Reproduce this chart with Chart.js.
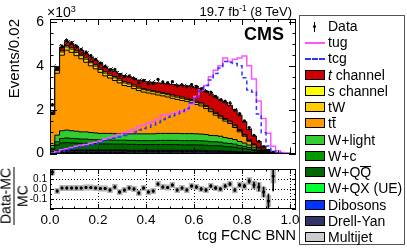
<!DOCTYPE html>
<html>
<head>
<meta charset="utf-8">
<title>tcg FCNC BNN</title>
<script src="https://cdn.jsdelivr.net/npm/chart.js@4.4.1/dist/chart.umd.min.js"></script>
<style>
html, body { margin: 0; padding: 0; background: #fff; }
body { position: relative; width: 407px; height: 248px; overflow: hidden; font-family: "Liberation Sans", Arial, Helvetica, sans-serif; color: #000; }
canvas { position: absolute; left: 0; }
#mainChart { top: 0; }
#ratioChart { top: 160px; }
.txt { position: absolute; white-space: nowrap; line-height: 1; }
#expo { left: 47px; top: 5px; font-size: 14px; }
.txt sup { font-size: 65%; vertical-align: 0; position: relative; top: -0.55em; }
#lumi { right: 115px; top: 5px; font-size: 13px; }
#cms { right: 123px; top: 25px; font-size: 18px; font-weight: bold; }
#ratioTitle { left: 14px; top: 196px; font-size: 14px; text-align: center; transform: translate(-50%, -50%) rotate(-90deg); }
#ratioTitle .num { display: block; border-bottom: 1px solid #000; padding: 0 1px 1px; }
#ratioTitle .den { display: block; padding-top: 1px; }
#legend { position: absolute; left: 299px; top: 15px; width: 106px; height: 230px; box-sizing: border-box; border: 1px solid #555; }
.row { position: absolute; left: 305px; width: 99px; height: 16px; font-size: 14px; line-height: 16px; white-space: nowrap; }
.sym { position: absolute; left: 0; top: 3px; width: 20px; height: 10px; box-sizing: border-box; border: 1px solid #000; }
.sym.line { border: none; height: 0; top: 8px; }
.sym.data { border: none; }
.lab { position: absolute; left: 23px; top: 0; }
.ovl { display: inline-block; line-height: 11px; border-top: 1px solid #000; }
</style>
</head>
<body>
<canvas id="mainChart" width="407" height="168"></canvas>
<canvas id="ratioChart" width="407" height="88"></canvas>
<div class="txt" id="expo">×10<sup>3</sup></div>
<div class="txt" id="lumi">19.7 fb<sup>-1</sup> (8 TeV)</div>
<div class="txt" id="cms">CMS</div>
<div class="txt" id="ratioTitle"><span class="num">Data-MC</span><span class="den">MC</span></div>
<div id="legend"></div>
<script>
// bins of the BNN output, 0.02 wide, values in thousands of events
const nBins = 50;
const binWidth = 0.02;
const xMax = 1.025;

const multijet = [0.02,0.04,0.05,0.05,0.05,0.05,0.05,0.05,0.05,0.05, 0.05,0.05,0.05,0.05,0.05,0.05,0.04,0.04,0.04,0.04, 0.04,0.04,0.04,0.04,0.04,0.04,0.04,0.04,0.04,0.04, 0.04,0.04,0.04,0.03,0.03,0.03,0.03,0.03,0.03,0.02, 0.02,0.02,0.01,0.01,0.01,0,0,0,0,0];
const drellYan = [0.03,0.06,0.07,0.07,0.07,0.07,0.07,0.07,0.06,0.06, 0.06,0.06,0.06,0.06,0.06,0.06,0.06,0.06,0.06,0.06, 0.06,0.06,0.06,0.06,0.06,0.06,0.06,0.06,0.06,0.06, 0.06,0.06,0.05,0.05,0.05,0.05,0.04,0.04,0.04,0.03, 0.03,0.02,0.02,0.01,0.01,0,0,0,0,0];
const dibosons = [0.01,0.02,0.03,0.03,0.03,0.03,0.03,0.03,0.03,0.03, 0.03,0.03,0.03,0.03,0.03,0.03,0.03,0.03,0.03,0.03, 0.03,0.03,0.03,0.03,0.03,0.03,0.03,0.03,0.03,0.03, 0.03,0.03,0.03,0.03,0.03,0.03,0.02,0.02,0.02,0.02, 0.02,0.02,0.01,0.01,0.01,0,0,0,0,0];
const wQX = [0.01,0.02,0.02,0.02,0.02,0.02,0.02,0.02,0.02,0.02, 0.02,0.02,0.02,0.02,0.02,0.02,0.02,0.02,0.02,0.02, 0.02,0.02,0.02,0.02,0.02,0.02,0.02,0.02,0.02,0.02, 0.02,0.02,0.02,0.02,0.02,0.02,0.02,0.02,0.01,0.01, 0.01,0.01,0.01,0.01,0,0,0,0,0,0];
const wQQ = [0.12,0.25,0.32,0.33,0.32,0.31,0.3,0.3,0.29,0.29, 0.28,0.28,0.28,0.27,0.27,0.27,0.27,0.27,0.26,0.26, 0.26,0.26,0.26,0.26,0.26,0.26,0.26,0.25,0.25,0.25, 0.25,0.24,0.24,0.23,0.23,0.22,0.21,0.2,0.19,0.17, 0.15,0.12,0.09,0.06,0.04,0.02,0.01,0,0,0];
const wC = [0.06,0.15,0.2,0.21,0.2,0.2,0.19,0.19,0.19,0.18, 0.18,0.18,0.18,0.18,0.18,0.18,0.18,0.18,0.18,0.18, 0.18,0.18,0.19,0.19,0.19,0.19,0.19,0.19,0.19,0.19, 0.19,0.19,0.19,0.18,0.18,0.17,0.16,0.15,0.14,0.12, 0.1,0.08,0.06,0.04,0.03,0.02,0.01,0,0,0];
const wLight = [0.12,0.3,0.35,0.36,0.35,0.34,0.33,0.33,0.32,0.31, 0.3,0.3,0.3,0.3,0.3,0.3,0.3,0.3,0.31,0.31, 0.31,0.31,0.32,0.32,0.32,0.32,0.32,0.32,0.32,0.32, 0.31,0.31,0.3,0.29,0.28,0.27,0.25,0.23,0.21,0.18, 0.15,0.12,0.09,0.06,0.04,0.02,0.01,0,0,0];
const ttbar = [1.41,2.82,3.44,3.64,3.57,3.44,3.33,3.17,3.04,2.92, 2.78,2.62,2.52,2.42,2.31,2.19,2.16,2.06,1.97,1.9, 1.86,1.82,1.75,1.71,1.66,1.6,1.55,1.51,1.47,1.41, 1.34,1.28,1.18,1.08,0.93,0.83,0.75,0.68,0.55,0.44, 0.31,0.17,0.1,0.05,0.01,0.01,0,0.01,0,0];
const tW = [0.05,0.12,0.15,0.15,0.15,0.15,0.14,0.14,0.14,0.13, 0.13,0.13,0.12,0.12,0.12,0.12,0.11,0.11,0.11,0.11, 0.1,0.1,0.1,0.1,0.1,0.1,0.1,0.1,0.09,0.09, 0.09,0.09,0.09,0.08,0.08,0.08,0.08,0.07,0.07,0.06, 0.05,0.04,0.03,0.02,0.01,0.01,0,0,0,0];
const sChannel = [0.02,0.05,0.06,0.06,0.06,0.06,0.06,0.06,0.06,0.06, 0.06,0.06,0.06,0.06,0.06,0.06,0.05,0.05,0.05,0.05, 0.05,0.05,0.05,0.05,0.05,0.05,0.05,0.05,0.05,0.05, 0.05,0.05,0.05,0.05,0.05,0.04,0.04,0.04,0.04,0.04, 0.03,0.03,0.02,0.02,0.01,0.01,0,0,0,0];
const tChannel = [0.05,0.12,0.16,0.18,0.18,0.18,0.18,0.19,0.2,0.2, 0.21,0.22,0.23,0.24,0.25,0.27,0.28,0.3,0.32,0.34, 0.36,0.38,0.4,0.42,0.45,0.48,0.5,0.53,0.56,0.59, 0.62,0.64,0.66,0.68,0.7,0.71,0.72,0.72,0.7,0.66, 0.58,0.47,0.36,0.26,0.16,0.08,0.03,0.01,0,0];

const tug = [0.03,0.1,0.17,0.22,0.28,0.33,0.38,0.42,0.47,0.52, 0.57,0.65,0.72,0.8,0.88,0.95,1.02,1.1,1.25,1.3, 1.38,1.45,1.6,1.75,1.78,1.82,1.88,1.95,2.0,2.25, 2.6,2.9,3.1,3.5,3.8,4.0,4.35,4.2,4.3,4.35, 4.45,4.0,3.4,2.4,1.6,0.93,0.34,0.13,0.05,0.03];
const tcg = [0.01,0.06,0.12,0.17,0.22,0.27,0.32,0.36,0.4,0.45, 0.5,0.57,0.64,0.7,0.76,0.83,0.9,0.98,1.08,1.14, 1.2,1.3,1.42,1.55,1.65,1.72,1.82,1.92,2.05,2.3, 2.6,2.85,3.1,3.35,3.65,3.9,4.2,4.15,4.1,4.0, 3.45,2.9,2.8,1.8,0.95,0.35,0.12,0.05,0.02,0.01];

// (Data-MC)/MC per bin, its data error, and the MC uncertainty
const ratioValues = [0.17,-0.02,0.01,0.01,0.01,0.01,0.01,0.015,0.015,0.01, 0.005,0.005,-0.01,0.02,-0.03,-0.01,0.01,0.0,-0.04,0.01, -0.03,-0.02,0.05,0.02,0.015,0.04,-0.01,0.01,-0.01,0.03, 0.02,0.0,-0.01,0.03,0.01,0.0,0.03,0.05,-0.01,0.04, 0.03,0.08,0.04,0.02,-0.03,-0.12,0.13];
const ratioErr = [0.03,0.012,0.01,0.01,0.01,0.01,0.01,0.01,0.01,0.01, 0.012,0.012,0.012,0.012,0.012,0.012,0.012,0.012,0.012,0.012, 0.012,0.012,0.012,0.012,0.012,0.012,0.012,0.012,0.012,0.012, 0.014,0.014,0.014,0.014,0.014,0.014,0.014,0.014,0.014,0.014, 0.018,0.022,0.03,0.04,0.05,0.07,0.15];
const mcErr = [0.03,0.027,0.027,0.027,0.027,0.027,0.027,0.027,0.027,0.027, 0.027,0.027,0.027,0.027,0.027,0.027,0.027,0.027,0.027,0.027, 0.027,0.027,0.027,0.027,0.027,0.027,0.027,0.027,0.027,0.027, 0.027,0.027,0.027,0.027,0.027,0.028,0.028,0.028,0.029,0.03, 0.032,0.035,0.04,0.045,0.05,0.055,0.07];

const yTicksMain = [0, 2, 4, 6];
const xTickStep = 0.2;

const stackSpecs = [
	{ label: 'Multijet', values: multijet, color: '#cccccc' },
	{ label: 'Drell-Yan', values: drellYan, color: '#333366' },
	{ label: 'Dibosons', values: dibosons, color: '#0033ff' },
	{ label: 'W+QX (UE)', values: wQX, color: '#00ff33' },
	{ label: 'W+QQ', values: wQQ, color: '#006600' },
	{ label: 'W+c', values: wC, color: '#009900' },
	{ label: 'W+light', values: wLight, color: '#33cc33' },
	{ label: 'ttbar', values: ttbar, color: '#ff9900' },
	{ label: 'tW', values: tW, color: '#ffcc00' },
	{ label: 's channel', values: sChannel, color: '#ffff00' },
	{ label: 't channel', values: tChannel, color: '#cc0000' },
];

const legendEntries = [
	{ kind: 'data', html: 'Data' },
	{ kind: 'line', html: 'tug', color: '#ff55ff' },
	{ kind: 'dash', html: 'tcg', color: '#3333ff' },
	{ kind: 'box', html: '<i>t</i> channel', color: '#cc0000' },
	{ kind: 'box', html: '<i>s</i> channel', color: '#ffff00' },
	{ kind: 'box', html: 'tW', color: '#ffcc00' },
	{ kind: 'box', html: 't<span class="ovl">t</span>', color: '#ff9900' },
	{ kind: 'box', html: 'W+light', color: '#33cc33' },
	{ kind: 'box', html: 'W+c', color: '#009900' },
	{ kind: 'box', html: 'W+Q<span class="ovl">Q</span>', color: '#006600' },
	{ kind: 'box', html: 'W+QX (UE)', color: '#00ff33' },
	{ kind: 'box', html: 'Dibosons', color: '#0033ff' },
	{ kind: 'box', html: 'Drell-Yan', color: '#333366' },
	{ kind: 'box', html: 'Multijet', color: '#cccccc' },
];

Chart.defaults.font.family = '"Liberation Sans", Arial, Helvetica, sans-serif';
Chart.defaults.color = '#000';

function binCenter(i) {
	return (i + 0.5) * binWidth;
}

// step outline: point at each low edge, plus the last high edge
function stepPoints(values) {
	const points = values.map((v, i) => ({ x: i * binWidth, y: v }));
	points.push({ x: nBins * binWidth, y: values[nBins - 1] });
	return points;
}

const cumulative = [];
let running = new Array(nBins).fill(0);
for (const spec of stackSpecs) {
	running = running.map((v, i) => v + spec.values[i]);
	cumulative.push(running);
}
const totalMC = cumulative[cumulative.length - 1];
const dataValues = ratioValues.map((r, i) => totalMC[i] * (1 + r));

// ROOT-like frame: box plus inward ticks on all four sides
const rootFrame = {
	id: 'rootFrame',
	beforeDatasetsDraw(chart, args, opts) {
		if (!opts.dotted) return;
		const { ctx, chartArea: a, scales: { x, y } } = chart;
		ctx.save();
		ctx.strokeStyle = '#000';
		ctx.lineWidth = 1;
		ctx.setLineDash([1, 2]);
		ctx.beginPath();
		for (const v of opts.dotted.x) {
			const px = Math.round(x.getPixelForValue(v)) + 0.5;
			ctx.moveTo(px, a.top);
			ctx.lineTo(px, a.bottom);
		}
		for (const v of opts.dotted.y) {
			const py = Math.round(y.getPixelForValue(v)) + 0.5;
			ctx.moveTo(a.left, py);
			ctx.lineTo(a.right, py);
		}
		ctx.stroke();
		ctx.restore();
	},
	afterDraw(chart, args, opts) {
		const { ctx, chartArea: a, scales: { x, y } } = chart;
		ctx.save();
		ctx.strokeStyle = '#000';
		ctx.lineWidth = 1;
		ctx.beginPath();
		const marks = (scale, step, len, vertical) => {
			const first = Math.ceil(scale.min / step - 1e-6);
			for (let k = first; k * step <= scale.max + 1e-9; k += 1) {
				const p = Math.round(scale.getPixelForValue(k * step)) + 0.5;
				if (vertical) {
					ctx.moveTo(p, a.bottom); ctx.lineTo(p, a.bottom - len);
					ctx.moveTo(p, a.top); ctx.lineTo(p, a.top + len);
				} else {
					ctx.moveTo(a.left, p); ctx.lineTo(a.left + len, p);
					ctx.moveTo(a.right, p); ctx.lineTo(a.right - len, p);
				}
			}
		};
		marks(x, opts.xMinor, opts.xMinorLen, true);
		marks(x, opts.xMajor, opts.xMajorLen, true);
		marks(y, opts.yMinor, opts.yMinorLen, false);
		marks(y, opts.yMajor, opts.yMajorLen, false);
		ctx.stroke();
		ctx.strokeRect(Math.round(a.left) + 0.5, Math.round(a.top) + 0.5, Math.round(a.right - a.left) - 1, Math.round(a.bottom - a.top) - 1);
		ctx.restore();
	},
};

function makeHatch(ctx) {
	const tile = document.createElement('canvas');
	tile.width = 5;
	tile.height = 5;
	const g = tile.getContext('2d');
	g.strokeStyle = '#000';
	g.lineWidth = 0.9;
	g.beginPath();
	g.moveTo(0, 5);
	g.lineTo(5, 0);
	g.stroke();
	return ctx.createPattern(tile, 'repeat');
}

const mainCanvas = document.getElementById('mainChart');
const hatch = makeHatch(mainCanvas.getContext('2d'));

const mainDatasets = stackSpecs.map((spec, k) => ({
	type: 'line',
	label: spec.label,
	data: stepPoints(cumulative[k]),
	stepped: true,
	fill: k === 0 ? 'origin' : '-1',
	backgroundColor: spec.color,
	borderColor: '#000',
	borderWidth: 1,
	pointRadius: 0,
	order: 10 + k,
}));

mainDatasets.push(
	{
		type: 'bar',
		label: 'MC uncertainty',
		data: totalMC.map((t, i) => ({ x: binCenter(i), y: [t * (1 - (mcErr[i] ?? 0.03)), t * (1 + (mcErr[i] ?? 0.03))] })).filter((p) => p.y[1] > 0.005),
		backgroundColor: hatch,
		borderWidth: 0,
		grouped: false,
		barPercentage: 1,
		categoryPercentage: 1,
		order: 4,
	},
	{
		type: 'line',
		label: 'tug',
		data: stepPoints(tug),
		stepped: true,
		fill: false,
		borderColor: '#ff55ff',
		borderWidth: 1.5,
		pointRadius: 0,
		order: 3,
	},
	{
		type: 'line',
		label: 'tcg',
		data: stepPoints(tcg),
		stepped: true,
		fill: false,
		borderColor: '#3333ff',
		borderWidth: 1.5,
		borderDash: [4, 3],
		pointRadius: 0,
		order: 2,
	},
	{
		type: 'bar',
		label: 'Data error',
		data: dataValues.map((d, i) => ({ x: binCenter(i), y: [d * (1 - ratioErr[i]), d * (1 + ratioErr[i])] })),
		backgroundColor: '#000',
		barThickness: 1,
		grouped: false,
		order: 1,
	},
	{
		type: 'line',
		label: 'Data',
		data: dataValues.map((d, i) => ({ x: binCenter(i), y: d })),
		showLine: false,
		pointRadius: 1.6,
		pointBorderWidth: 0,
		pointBackgroundColor: '#000',
		order: 0,
	},
);

new Chart(mainCanvas, {
	type: 'line',
	data: { datasets: mainDatasets },
	options: {
		responsive: false,
		animation: false,
		devicePixelRatio: 1,
		events: [],
		layout: { padding: { top: 19, right: 111, bottom: 3, left: 0 } },
		plugins: {
			legend: { display: false },
			tooltip: { enabled: false },
			rootFrame: { xMajor: 0.2, xMajorLen: 6, xMinor: 0.05, xMinorLen: 3, yMajor: 2, yMajorLen: 7, yMinor: 0.5, yMinorLen: 3.5 },
		},
		scales: {
			x: { type: 'linear', min: 0, max: xMax, offset: false, display: false },
			y: {
				type: 'linear',
				min: 0,
				max: 6.13,
				grid: { display: false, drawTicks: false },
				border: { display: false },
				afterBuildTicks: (scale) => { scale.ticks = yTicksMain.map((v) => ({ value: v })); },
				ticks: { padding: 6, font: { size: 14 }, callback: (v) => String(v) },
				title: { display: true, text: 'Events/0.02', align: 'end', font: { size: 15 }, padding: { top: 6, bottom: 0 } },
				afterFit: (scale) => { scale.width = 50; },
			},
		},
	},
	plugins: [rootFrame],
});

new Chart(document.getElementById('ratioChart'), {
	type: 'line',
	data: {
		datasets: [
			{
				type: 'bar',
				label: 'MC uncertainty',
				data: ratioValues.map((r, i) => ({ x: binCenter(i), y: [r - mcErr[i], r + mcErr[i]] })),
				backgroundColor: '#b4b4b4',
				borderWidth: 0,
				grouped: false,
				barPercentage: 1,
				categoryPercentage: 1,
				order: 2,
			},
			{
				type: 'bar',
				label: 'Data error',
				data: ratioValues.map((r, i) => ({ x: binCenter(i), y: [r - ratioErr[i], r + ratioErr[i]] })),
				backgroundColor: '#000',
				barThickness: 1,
				grouped: false,
				order: 1,
			},
			{
				type: 'line',
				label: 'Data-MC',
				data: ratioValues.map((r, i) => ({ x: binCenter(i), y: r })),
				showLine: false,
				pointRadius: 1.6,
				pointBorderWidth: 0,
				pointBackgroundColor: '#000',
				order: 0,
			},
		],
	},
	options: {
		responsive: false,
		animation: false,
		devicePixelRatio: 1,
		events: [],
		layout: { padding: { top: 7, right: 111, bottom: 0, left: 0 } },
		plugins: {
			legend: { display: false },
			tooltip: { enabled: false },
			rootFrame: {
				xMajor: 0.2, xMajorLen: 5, xMinor: 0.05, xMinorLen: 2.5,
				yMajor: 0.1, yMajorLen: 4, yMinor: 0.05, yMinorLen: 2,
				dotted: { x: [0.2, 0.4, 0.6, 0.8, 1.0], y: [-0.1, 0, 0.1] },
			},
		},
		scales: {
			x: {
				type: 'linear',
				min: 0,
				max: xMax,
				offset: false,
				grid: { display: false, drawTicks: false },
				border: { display: false },
				ticks: { stepSize: xTickStep, includeBounds: false, autoSkip: false, maxRotation: 0, padding: 3, font: { size: 13.5 }, callback: (v) => (Math.round(v * 10) / 10).toFixed(1) },
				title: { display: true, text: 'tcg FCNC BNN', align: 'end', font: { size: 14.5 }, padding: { top: 0, bottom: 3 } },
				afterFit: (scale) => { scale.height = 39; },
			},
			y: {
				type: 'linear',
				min: -0.2,
				max: 0.2,
				grid: { display: false, drawTicks: false },
				border: { display: false },
				afterBuildTicks: (scale) => { scale.ticks = [-0.1, 0, 0.1].map((v) => ({ value: v })); },
				ticks: {
					autoSkip: false,
					padding: 3,
					font: { size: 10 },
					callback: (v) => (Math.round(v * 10) / 10).toFixed(1),
				},
				afterFit: (scale) => { scale.width = 50; },
			},
		},
	},
	plugins: [rootFrame],
});

// legend box, ROOT style
legendEntries.forEach((entry, k) => {
	const row = document.createElement('div');
	row.className = 'row';
	row.style.top = `${Math.round(18 + k * 16.23)}px`;
	let sym = '';
	if (entry.kind === 'box') {
		sym = `<span class="sym" style="background:${entry.color}"></span>`;
	} else if (entry.kind === 'line') {
		sym = `<span class="sym line" style="border-top:2px solid ${entry.color}"></span>`;
	} else if (entry.kind === 'dash') {
		sym = `<span class="sym line" style="border-top:2px dashed ${entry.color}"></span>`;
	} else {
		sym = '<span class="sym data"><span style="position:absolute;left:9px;top:1px;width:1px;height:10px;background:#000"></span><span style="position:absolute;left:8px;top:4px;width:3px;height:3px;border-radius:50%;background:#000"></span></span>';
	}
	row.innerHTML = `${sym}<span class="lab">${entry.html}</span>`;
	document.body.appendChild(row);
});
</script>
</body>
</html>
